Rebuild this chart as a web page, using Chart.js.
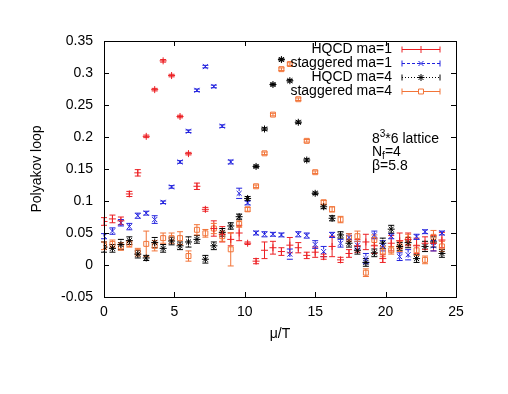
<!DOCTYPE html>
<html lang="en">
<head>
<meta charset="UTF-8">
<title>Polyakov loop vs mu/T</title>
<script src="https://cdn.jsdelivr.net/npm/chart.js@4.4.0/dist/chart.umd.min.js"></script>
<style>
    html, body { margin: 0; padding: 0; background: #fff; overflow: hidden; }
    canvas { display: block; }
</style>
</head>
<body>
<canvas id="chartJSContainer" width="508" height="394"></canvas>
<script>
    // mu/T sample points
    const muT = [0, 0.6, 1.2, 1.8, 2.4, 3, 3.6, 4.2, 4.8, 5.4, 6, 6.6, 7.2, 7.8, 8.4, 9, 9.6, 10.2, 10.8, 11.4,
                 12, 12.6, 13.2, 13.8, 14.4, 15, 15.6, 16.2, 16.8, 17.4, 18, 18.6, 19.2, 19.8, 20.4, 21, 21.6, 22.2, 22.8, 23.4, 24];

    const hqcd1 = [0.068, 0.072, 0.069, 0.111, 0.144, 0.201, 0.274, 0.319, 0.296, 0.232, 0.174, 0.123, 0.087, 0.057, 0.048, 0.040, 0.050, 0.034, 0.006, 0.023,
                   0.027, 0.021, 0.031, 0.027, 0.015, 0.020, 0.013, 0.029, 0.008, 0.018, 0.030, 0.036, 0.030, 0.010, 0.034, 0.038, 0.040, 0.030, 0.034, 0.034, 0.039];
    const hqcd1Err = [0.006, 0.006, 0.006, 0.004, 0.005, 0.002, 0.002, 0.002, 0.002, 0.002, 0.002, 0.005, 0.003, 0.012, 0.012, 0.010, 0.012, 0.002, 0.004, 0.013,
                      0.010, 0.006, 0.012, 0.008, 0.005, 0.008, 0.004, 0.016, 0.004, 0.006, 0.010, 0.012, 0.012, 0.006, 0.012, 0.012, 0.010, 0.012, 0.010, 0.012, 0.012];

    const stag1 = [0.045, 0.053, 0.066, 0.060, 0.077, 0.081, 0.071, 0.098, 0.122, 0.161, 0.209, 0.273, 0.310, 0.279, 0.217, 0.161, 0.112, 0.097, 0.050, 0.048,
                   0.048, 0.047, 0.017, 0.048, 0.046, 0.032, 0.021, 0.047, 0.034, 0.043, 0.031, 0.010, 0.047, 0.030, 0.045, 0.013, 0.016, 0.044, 0.052, 0.030, 0.050];
    const stag1Err = [0.004, 0.005, 0.005, 0.005, 0.004, 0.003, 0.006, 0.002, 0.002, 0.002, 0.002, 0.002, 0.002, 0.002, 0.002, 0.003, 0.008, 0.003, 0.003, 0.004,
                      0.003, 0.003, 0.008, 0.004, 0.004, 0.006, 0.008, 0.004, 0.006, 0.006, 0.006, 0.008, 0.006, 0.008, 0.004, 0.006, 0.008, 0.004, 0.003, 0.008, 0.003];

    const hqcd4 = [0.028, 0.026, 0.032, 0.038, 0.017, 0.011, 0.035, 0.026, 0.0375, 0.030, 0.036, 0.040, 0.009, 0.030, 0.051, 0.061, 0.0755, 0.104, 0.154, 0.2125,
                   0.282, 0.321, 0.288, 0.223, 0.164, 0.112, 0.091, 0.073, 0.047, 0.034, 0.023, 0.004, 0.019, 0.034, 0.056, 0.029, 0.035, 0.010, 0.029, 0.036, 0.018];
    const hqcd4Err = [0.008, 0.006, 0.008, 0.006, 0.006, 0.004, 0.008, 0.006, 0.006, 0.006, 0.008, 0.006, 0.006, 0.006, 0.006, 0.005, 0.004, 0.003, 0.002, 0.002,
                      0.002, 0.002, 0.002, 0.002, 0.002, 0.002, 0.003, 0.004, 0.005, 0.006, 0.006, 0.006, 0.006, 0.008, 0.006, 0.006, 0.008, 0.006, 0.008, 0.008, 0.006];

    const stag4 = [0.030, 0.033, 0.029, 0.033, 0.020, 0.033, 0.030, 0.042, 0.042, 0.042, 0.014, 0.055, 0.0495, 0.057, 0.045, 0.0245, 0.064, 0.087, 0.123, 0.1745,
                   0.235, 0.306, 0.314, 0.259, 0.194, 0.145, 0.098, 0.087, 0.071, 0.043, 0.045, -0.012, 0.039, 0.021, 0.023, 0.029, 0.040, 0.023, 0.008, 0.044, 0.029];
    const stag4Err = [0.006, 0.006, 0.006, 0.005, 0.006, 0.020, 0.008, 0.008, 0.008, 0.010, 0.008, 0.008, 0.006, 0.008, 0.008, 0.026, 0.005, 0.003, 0.002, 0.002,
                      0.002, 0.002, 0.002, 0.002, 0.002, 0.002, 0.003, 0.004, 0.005, 0.006, 0.008, 0.006, 0.008, 0.008, 0.006, 0.008, 0.008, 0.008, 0.006, 0.010, 0.008];

    const seriesNames = ['HQCD ma=1', 'staggered ma=1', 'HQCD ma=4', 'staggered ma=4'];
    const xTicks = [0, 5, 10, 15, 20, 25];
    const xTickLabels = ['0', '5', '10', '15', '20', '25'];
    const yTicks = [-0.05, 0, 0.05, 0.1, 0.15, 0.2, 0.25, 0.3, 0.35];
    const yTickLabels = ['-0.05', '0', '0.05', '0.1', '0.15', '0.2', '0.25', '0.3', '0.35'];

    const FONT = 'Liberation Sans, Arial, Helvetica, sans-serif';
    const red = 'rgb(236,32,36)', blue = 'rgb(34,34,222)', black = '#000', orange = 'rgb(242,116,56)';

    function toPoints(vals) {
        return muT.map((x, i) => ({x: x, y: vals[i]}));
    }

    const styles = [
        {color: red, fill: red, pointStyle: 'cross', dash: [], radius: 3.5, errs: hqcd1Err},
        {color: blue, fill: blue, pointStyle: 'crossRot', dash: [3, 2], radius: 3.5, errs: stag1Err},
        {color: black, fill: black, pointStyle: 'star', dash: [1, 2], radius: 3.5, errs: hqcd4Err},
        {color: orange, fill: 'rgba(255,255,255,0)', pointStyle: 'rect', dash: [], radius: 3.5, errs: stag4Err}
    ];
    const values = [hqcd1, stag1, hqcd4, stag4];

    // vertical error bars with caps, drawn through the chart scales
    const errorBars = {
        id: 'errorBars',
        beforeDatasetsDraw(chart) {
            const ctx = chart.ctx, xs = chart.scales.x, ys = chart.scales.y;
            chart.data.datasets.forEach((ds, di) => {
                const st = styles[di];
                ctx.save();
                ctx.strokeStyle = st.color;
                ctx.lineWidth = 1;
                ds.data.forEach((p, i) => {
                    const e = st.errs[i];
                    const px = xs.getPixelForValue(p.x);
                    const top = ys.getPixelForValue(p.y + e);
                    const bot = ys.getPixelForValue(p.y - e);
                    ctx.setLineDash(st.dash);
                    ctx.beginPath();
                    ctx.moveTo(px, top);
                    ctx.lineTo(px, bot);
                    ctx.stroke();
                    ctx.setLineDash([]);
                    ctx.beginPath();
                    ctx.moveTo(px - 3, top); ctx.lineTo(px + 3, top);
                    ctx.moveTo(px - 3, bot); ctx.lineTo(px + 3, bot);
                    ctx.stroke();
                });
                ctx.restore();
            });
        }
    };

    // gnuplot style frame with inward ticks on all sides
    const frame = {
        id: 'frame',
        afterDraw(chart) {
            const ctx = chart.ctx, a = chart.chartArea, xs = chart.scales.x, ys = chart.scales.y;
            ctx.save();
            ctx.strokeStyle = '#000';
            ctx.lineWidth = 1;
            ctx.strokeRect(a.left + 0.5, a.top + 0.5, a.right - a.left, a.bottom - a.top);
            ctx.beginPath();
            xTicks.forEach(v => {
                const px = Math.round(xs.getPixelForValue(v)) + 0.5;
                ctx.moveTo(px, a.bottom); ctx.lineTo(px, a.bottom - 5);
                ctx.moveTo(px, a.top); ctx.lineTo(px, a.top + 5);
            });
            yTicks.forEach(v => {
                const py = Math.round(ys.getPixelForValue(v)) + 0.5;
                ctx.moveTo(a.left, py); ctx.lineTo(a.left + 5, py);
                ctx.moveTo(a.right, py); ctx.lineTo(a.right - 5, py);
            });
            ctx.stroke();
            ctx.restore();
        }
    };

    // key in the upper right plus the lattice note
    const keyAndNote = {
        id: 'keyAndNote',
        afterDraw(chart) {
            const ctx = chart.ctx;
            ctx.save();
            ctx.font = '14px ' + FONT;
            ctx.textAlign = 'right';
            ctx.textBaseline = 'middle';
            seriesNames.forEach((name, i) => {
                const st = styles[i];
                const y = 49.5 + i * 14;
                ctx.fillStyle = '#000';
                ctx.fillText(name, 392, y);
                ctx.strokeStyle = st.color;
                ctx.lineWidth = 1;
                ctx.setLineDash(st.dash);
                ctx.beginPath();
                ctx.moveTo(402, y); ctx.lineTo(440, y);
                ctx.stroke();
                ctx.setLineDash([]);
                ctx.beginPath();
                ctx.moveTo(402, y - 3); ctx.lineTo(402, y + 3);
                ctx.moveTo(440, y - 3); ctx.lineTo(440, y + 3);
                ctx.stroke();
                ctx.fillStyle = st.fill === styles[3].fill ? '#fff' : st.fill;
                Chart.helpers.drawPoint(ctx, {pointStyle: st.pointStyle, radius: st.radius, rotation: 0, borderWidth: 1}, 421, y);
            });

            ctx.textAlign = 'left';
            ctx.textBaseline = 'alphabetic';
            ctx.fillStyle = '#000';
            let x = 372;
            ctx.font = '14px ' + FONT;
            ctx.fillText('8', x, 142.5);
            x += ctx.measureText('8').width;
            ctx.font = '10px ' + FONT;
            ctx.fillText('3', x, 137);
            x += ctx.measureText('3').width;
            ctx.font = '14px ' + FONT;
            ctx.fillText('*6 lattice', x, 142.5);

            x = 372;
            ctx.fillText('N', x, 156);
            x += ctx.measureText('N').width;
            ctx.font = '10px ' + FONT;
            ctx.fillText('f', x, 159);
            x += ctx.measureText('f').width;
            ctx.font = '14px ' + FONT;
            ctx.fillText('=4', x, 156);

            ctx.fillText('\u03b2=5.8', 372, 170);
            ctx.restore();
        }
    };

    const options = {
        type: 'scatter',
        data: {
            datasets: values.map((vals, i) => ({
                label: seriesNames[i],
                data: toPoints(vals),
                borderColor: styles[i].color,
                backgroundColor: styles[i].fill,
                pointStyle: styles[i].pointStyle,
                pointRadius: styles[i].radius,
                pointBorderWidth: 1,
                showLine: false
            }))
        },
        options: {
            responsive: false,
            animation: false,
            events: [],
            layout: {padding: {left: 0, right: 52, top: 41, bottom: 0}},
            plugins: {
                legend: {display: false},
                tooltip: {enabled: false}
            },
            scales: {
                x: {
                    type: 'linear',
                    min: 0,
                    max: 25,
                    afterFit: s => { s.height = 97; },
                    afterBuildTicks: s => { s.ticks = xTicks.map(v => ({value: v})); },
                    grid: {display: false, drawTicks: false},
                    border: {display: false},
                    ticks: {
                        padding: 7,
                        color: '#000',
                        font: {family: FONT, size: 14},
                        maxRotation: 0,
                        callback: (v, i) => xTickLabels[i]
                    },
                    title: {
                        display: true,
                        text: '\u03bc/T',
                        color: '#000',
                        font: {family: FONT, size: 14},
                        padding: {top: 0, bottom: 51}
                    }
                },
                y: {
                    type: 'linear',
                    min: -0.05,
                    max: 0.35,
                    afterFit: s => { s.width = 104; },
                    afterBuildTicks: s => { s.ticks = yTicks.map(v => ({value: v})); },
                    grid: {display: false, drawTicks: false},
                    border: {display: false},
                    ticks: {
                        padding: 11,
                        color: '#000',
                        font: {family: FONT, size: 14},
                        callback: (v, i) => yTickLabels[i]
                    },
                    title: {
                        display: true,
                        text: 'Polyakov loop',
                        color: '#000',
                        font: {family: FONT, size: 14},
                        padding: {top: 29, bottom: 0}
                    }
                }
            }
        },
        plugins: [errorBars, frame, keyAndNote]
    };

    const ctx = document.getElementById('chartJSContainer').getContext('2d');
    const chart = new Chart(ctx, options);
</script>
</body>
</html>
